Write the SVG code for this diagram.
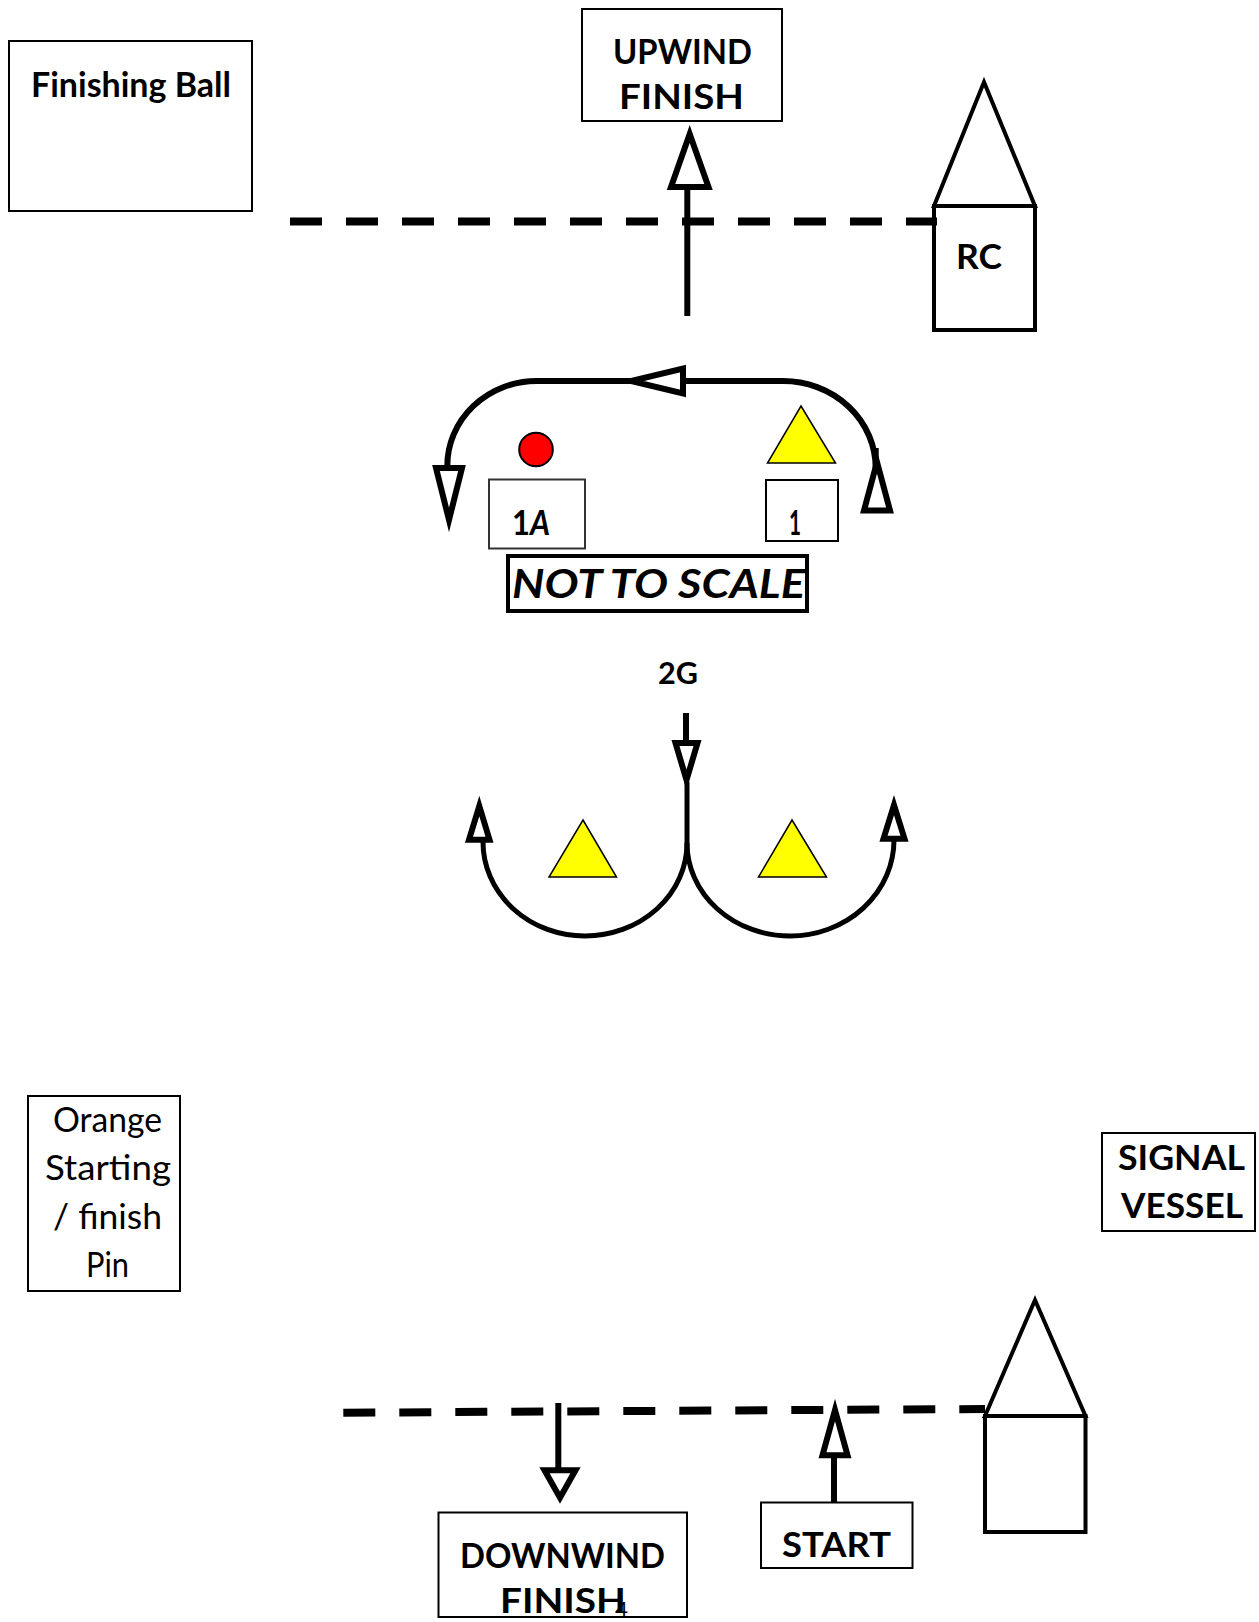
<svg xmlns="http://www.w3.org/2000/svg" width="1259" height="1622" viewBox="0 0 1259 1622">
<style>
text{font-family:"Lato","Open Sans","Liberation Sans",sans-serif;font-size:34px;fill:#000;font-weight:700}
.r{font-weight:400}
.box{fill:#fff;stroke:#000;stroke-width:2}
.boat{fill:#fff;stroke:#000;stroke-width:4}
.mark{fill:#ff0;stroke:#000;stroke-width:1.500}
.ln{fill:none;stroke:#000;stroke-width:6}
.thin{fill:none;stroke:#000;stroke-width:5}
.dash{fill:none;stroke:#000;stroke-width:8;stroke-dasharray:32 24}
.hd{fill:#fff;stroke:#000;stroke-width:6;stroke-linejoin:miter;stroke-miterlimit:10}
</style>
<rect width="1259" height="1622" fill="#fff"/>
<g id="finishing-ball"><rect class="box" x="9" y="41" width="243" height="170"/><text x="31" y="97" textLength="200" lengthAdjust="spacingAndGlyphs">Finishing Ball</text></g>
<g id="upwind-finish"><rect class="box" x="582" y="9" width="200" height="112"/><text x="613" y="64" textLength="139" lengthAdjust="spacingAndGlyphs">UPWIND</text><text x="619" y="109" textLength="125" lengthAdjust="spacingAndGlyphs">FINISH</text></g>
<g id="rc-boat"><polygon class="boat" points="984,82 1035,206 934,206"/><rect class="boat" x="934" y="206" width="101" height="124"/><text x="956" y="269" textLength="46" lengthAdjust="spacingAndGlyphs">RC</text></g>
<g id="mark-1a"><circle cx="536" cy="449.500" r="16.800" fill="#f00" stroke="#000" stroke-width="2"/><rect class="box" x="489" y="479.500" width="96" height="69" stroke-opacity="0.800"/><text x="512" y="535" textLength="38" lengthAdjust="spacingAndGlyphs">1<tspan font-style="italic">A</tspan></text></g>
<g id="mark-1"><polygon class="mark" points="801,406 835.500,463 767.500,463"/><rect class="box" x="766" y="480" width="72" height="61"/><text x="789" y="535" textLength="12" lengthAdjust="spacingAndGlyphs">1</text></g>
<g id="not-to-scale"><rect x="508" y="556" width="299" height="55" fill="#fff" stroke="#000" stroke-width="4"/><text x="512" y="598" style="font-size:40px;font-style:italic" textLength="293" lengthAdjust="spacingAndGlyphs">NOT TO SCALE</text></g>
<g id="mark-2g"><text x="658" y="684" style="font-size:31px" textLength="40" lengthAdjust="spacingAndGlyphs">2G</text></g>
<g id="gate-left"><polygon class="mark" points="583,820 616.500,877 549,877"/></g>
<g id="gate-right"><polygon class="mark" points="792,820 826.500,877 758.500,877"/></g>
<g id="orange-pin"><rect class="box" x="28" y="1096" width="152" height="195"/><text class="r" x="53" y="1132" textLength="109" lengthAdjust="spacingAndGlyphs">Orange</text><text class="r" x="45" y="1180" textLength="126" lengthAdjust="spacingAndGlyphs">Starting</text><text class="r" x="53" y="1229" textLength="109" lengthAdjust="spacingAndGlyphs">/ finish</text><text class="r" x="86" y="1277" textLength="43" lengthAdjust="spacingAndGlyphs">Pin</text></g>
<g id="signal-vessel"><rect class="box" x="1102" y="1133" width="153" height="98"/><text x="1118" y="1170" textLength="127" lengthAdjust="spacingAndGlyphs">SIGNAL</text><text x="1121" y="1218" textLength="122" lengthAdjust="spacingAndGlyphs">VESSEL</text></g>
<g id="signal-boat"><polygon class="boat" points="1035,1300 1085.500,1416 985,1416"/><rect class="boat" x="985" y="1416" width="100.500" height="116"/></g>
<g id="start"><rect class="box" x="761" y="1502.500" width="151.500" height="65.500"/><text x="782" y="1557" textLength="109" lengthAdjust="spacingAndGlyphs">START</text></g>
<g id="downwind-finish"><rect class="box" x="438.500" y="1512.500" width="248.500" height="104.500"/><text x="460" y="1568" textLength="205" lengthAdjust="spacingAndGlyphs">DOWNWIND</text><text x="500" y="1612.500" textLength="126" lengthAdjust="spacingAndGlyphs">FINISH</text></g>
<text class="r" x="615" y="1617" style="font-size:22px" textLength="13" lengthAdjust="spacingAndGlyphs">4</text>
<g id="connectors">
<line class="dash" x1="290" y1="221.500" x2="937" y2="221.500"/>
<line class="ln" x1="687.300" y1="316" x2="687.300" y2="189"/>
<polygon class="hd" points="689.700,134 708.500,187 671,187"/>
<path class="ln" d="M875.700,448 L875.700,470 M875.700,468 A92.700,87 0 0 0 783,381 L684,381"/>
<polygon class="hd" points="683,368.500 683,393.500 631,381"/>
<path class="ln" d="M630,381 L536.700,381 A89.400,85 0 0 0 447.300,466"/>
<polygon class="hd" points="436,468 462,468 449,520"/>
<polygon class="hd" points="877,462 890,510.500 864,510.500"/>
<line class="ln" x1="686" y1="713" x2="686" y2="744"/>
<polygon class="hd" points="675.500,743 697.500,743 686.500,780"/>
<line class="thin" x1="687" y1="782" x2="687" y2="843"/>
<path class="thin" d="M687,843 A102,93 0 0 1 585,936 A102,94 0 0 1 483,842"/>
<path class="thin" d="M687,843 A103,93 0 0 0 790,936 A104,96 0 0 0 894,840"/>
<polygon class="hd" points="469,839.700 489.500,839.700 479.300,806"/>
<polygon class="hd" points="883.500,838.700 904.500,838.700 894,805"/>
<line class="dash" x1="343.300" y1="1412.700" x2="985" y2="1409"/>
<line class="ln" x1="558.300" y1="1403" x2="558.300" y2="1470"/>
<polygon class="hd" points="544.500,1470.300 575.500,1470.300 560,1497.700"/>
<line class="ln" x1="834" y1="1502" x2="834" y2="1456"/>
<polygon class="hd" points="835,1410 847.500,1455.300 822.500,1455.300"/>
</g>
</svg>
